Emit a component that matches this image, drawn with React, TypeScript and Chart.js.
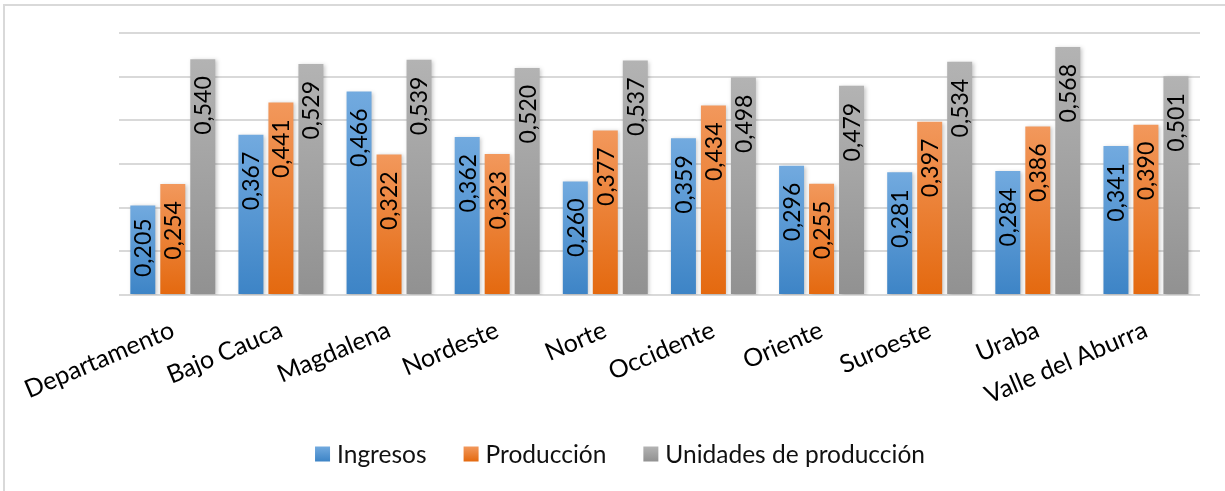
import React, { useEffect, useRef } from "react";
import { Chart, registerables } from "chart.js";

Chart.register(...registerables);

const categories = [
  "Departamento",
  "Bajo Cauca",
  "Magdalena",
  "Nordeste",
  "Norte",
  "Occidente",
  "Oriente",
  "Suroeste",
  "Uraba",
  "Valle del Aburra",
];
const ingresos = [0.205, 0.367, 0.466, 0.362, 0.26, 0.359, 0.296, 0.281, 0.284, 0.341];
const produccion = [0.254, 0.441, 0.322, 0.323, 0.377, 0.434, 0.255, 0.397, 0.386, 0.39];
const unidades = [0.54, 0.529, 0.539, 0.52, 0.537, 0.498, 0.479, 0.534, 0.568, 0.501];
const seriesNames = ["Ingresos", "Producción", "Unidades de producción"];
const yMin = 0;
const yMax = 0.6;
const yStep = 0.1;

const gradients: [string, string][] = [
  ["#72aadf", "#3d84c6"],
  ["#f2985c", "#e4690f"],
  ["#b3b3b3", "#919191"],
];

const FONT = "Lato";

function makeGrad(ctx: CanvasRenderingContext2D, top: number, bottom: number, stops: [string, string]) {
  const g = ctx.createLinearGradient(0, top, 0, bottom);
  g.addColorStop(0, stops[0]);
  g.addColorStop(1, stops[1]);
  return g;
}

function fmt(v: number) {
  return v.toFixed(3).replace(".", ",");
}

const barPlugin = {
  id: "barDecor",
  beforeDatasetsDraw(chart: any) {
    const ctx = chart.ctx;
    ctx.save();
    ctx.shadowColor = "rgba(0,0,0,0.22)";
    ctx.shadowBlur = 4;
    ctx.shadowOffsetX = 1.5;
    ctx.shadowOffsetY = 1;
  },
  afterDatasetsDraw(chart: any) {
    const ctx = chart.ctx;
    ctx.restore();
    ctx.save();
    ctx.font = `23px ${FONT}`;
    ctx.fillStyle = "#000";
    ctx.textAlign = "right";
    ctx.textBaseline = "middle";
    chart.data.datasets.forEach((ds: any, di: number) => {
      const meta = chart.getDatasetMeta(di);
      meta.data.forEach((bar: any, i: number) => {
        const text = fmt(ds.data[i]);
        const len = ctx.measureText(text).width;
        let top = bar.y + 17;
        if (top + len > bar.base - 17) top = Math.max(bar.y + 5, bar.base - 17 - len);
        ctx.save();
        ctx.translate(bar.x + 1, top);
        ctx.rotate(-Math.PI / 2);
        ctx.fillText(text, 0, 0);
        ctx.restore();
      });
    });
    ctx.restore();
  },
  afterDraw(chart: any) {
    const ctx = chart.ctx;
    // legend
    ctx.save();
    ctx.font = `24.5px ${FONT}`;
    const box = 15;
    const gap = 7;
    const between = 37;
    const widths = seriesNames.map((n) => ctx.measureText(n).width);
    const total = widths.reduce((a, w) => a + box + gap + w, 0) + between * (seriesNames.length - 1);
    let x = 620 - total / 2;
    const cy = 454;
    ctx.textBaseline = "middle";
    ctx.textAlign = "left";
    seriesNames.forEach((n, i) => {
      ctx.fillStyle = makeGrad(ctx, cy - box / 2, cy + box / 2, gradients[i]);
      ctx.fillRect(x, cy - box / 2, box, box);
      ctx.fillStyle = "#111";
      ctx.fillText(n, x + box + gap, cy + 1);
      x += box + gap + widths[i] + between;
    });
    // outer frame (left and top edges visible)
    ctx.strokeStyle = "#d9d9d9";
    ctx.lineWidth = 2;
    ctx.beginPath();
    ctx.moveTo(4, chart.height);
    ctx.lineTo(4, 5);
    ctx.lineTo(chart.width, 5);
    ctx.stroke();
    ctx.restore();
  },
};

export default function App() {
  const ref = useRef<HTMLCanvasElement>(null);
  useEffect(() => {
    document.body.style.margin = "0";
    const series = [ingresos, produccion, unidades];
    const chart = new Chart(ref.current!, {
      type: "bar",
      data: {
        labels: categories,
        datasets: series.map((d, si) => ({
          label: seriesNames[si],
          data: d,
          barPercentage: 0.833,
          categoryPercentage: 0.832,
          backgroundColor: (c: any) => {
            const chart = c.chart;
            if (!chart.chartArea || c.type !== "data") return gradients[si][1];
            const ys = chart.scales.y;
            const top = ys.getPixelForValue(c.raw as number);
            const bottom = ys.getPixelForValue(0);
            return makeGrad(chart.ctx, top, bottom, gradients[si]);
          },
        })),
      },
      options: {
        responsive: false,
        devicePixelRatio: 1,
        animation: false,
        layout: { padding: { left: 118, right: 25, top: 33, bottom: 0 } },
        plugins: { legend: { display: false }, tooltip: { enabled: false } },
        scales: {
          x: {
            grid: { display: false, drawTicks: false },
            border: { display: false },
            ticks: {
              autoSkip: false,
              minRotation: 23,
              maxRotation: 23,
              padding: 20,
              color: "#000",
              font: { family: FONT, size: 25 },
            },
            afterFit: (s: any) => {
              s.height = 196;
            },
          },
          y: {
            min: yMin,
            max: yMax,
            ticks: { display: false, stepSize: yStep },
            grid: { color: "#d9d9d9", lineWidth: 2, drawTicks: false },
            border: { display: false },
            afterFit: (s: any) => {
              s.width = 0;
            },
          },
        },
      },
      plugins: [barPlugin],
    });
    return () => chart.destroy();
  }, []);
  return (
    <div style={{ width: 1225, height: 491, background: "#fff" }}>
      <canvas ref={ref} width={1225} height={491} style={{ display: "block" }} />
    </div>
  );
}
